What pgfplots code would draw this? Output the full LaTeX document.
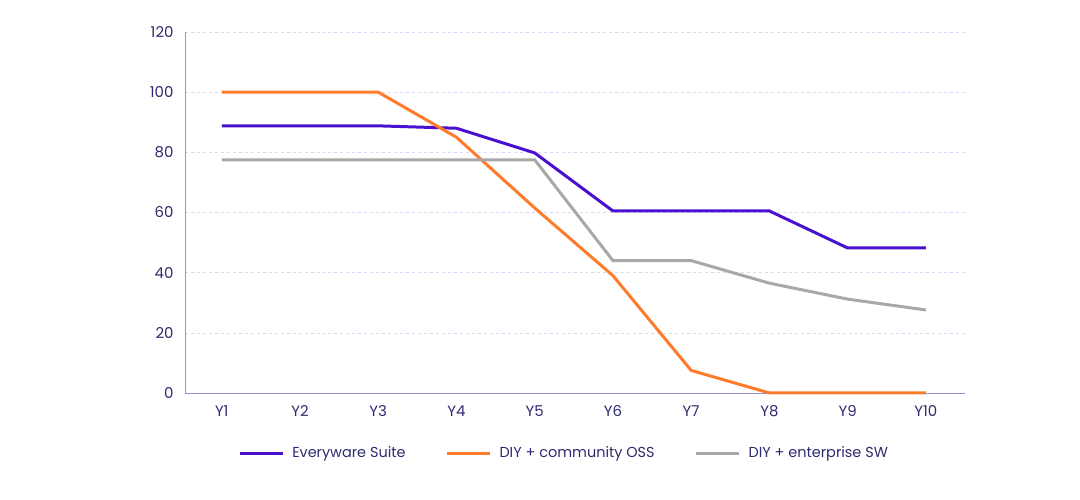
\documentclass[border=0pt]{standalone}
\usepackage{pgfplots}
\pgfplotsset{compat=1.18}
\usepackage{fontspec}
\setmainfont{Poppins}
\definecolor{cpurple}{HTML}{4A10CF}
\definecolor{corange}{HTML}{FF7B2C}
\definecolor{cgray}{HTML}{A8A8A8}
\definecolor{caxis}{HTML}{9A8ED6}
\definecolor{cgrid}{HTML}{DCD8F4}
\definecolor{ctext}{HTML}{2E2A6E}
\begin{document}
\begin{tikzpicture}[x=1bp,y=1bp]
\path[use as bounding box] (0,0) rectangle (1080,500);
\begin{axis}[
  at={(185bp,107bp)}, anchor=south west,
  scale only axis, width=780bp, height=361bp,
  xmin=0.53, xmax=10.5, ymin=0, ymax=120,
  axis x line=bottom, axis y line=left,
  axis line style={caxis, line width=0.9pt, -},
  xtick={1,...,10},
  xticklabels={Y1,Y2,Y3,Y4,Y5,Y6,Y7,Y8,Y9,Y10},
  ytick={0,20,...,120},
  major tick length=0pt,
  ymajorgrids, grid style={cgrid, dashed, line width=0.6pt},
  tick label style={font=\fontsize{15}{17}\selectfont, text=ctext},
  /pgf/number format/assume math mode=true,
  yticklabel style={xshift=-8bp},
  xticklabel style={yshift=-9bp},
  legend style={at={(0.486,-0.138)}, anchor=north, draw=none, fill=none,
    font=\fontsize{14.5}{16}\selectfont, text=ctext,
    legend columns=-1,
    /tikz/every odd column/.append style={column sep=6bp},
    /tikz/every even column/.append style={column sep=38bp}},
  legend image code/.code={\draw[#1, line width=3pt] (0bp,0bp) -- (43bp,0bp);},
  clip=false,
]
\addplot[cpurple, line width=3pt] coordinates {(1,88.8) (2,88.8) (3,88.8) (4,88.0) (5,79.8) (6,60.5) (7,60.5) (8,60.5) (9,48.2) (10,48.2)};
\addlegendentry{Everyware Suite}
\addplot[corange, line width=3pt] coordinates {(1,100) (2,100) (3,100) (4,85) (5,61.5) (6,39) (7,7.5) (8,0) (9,0) (10,0)};
\addlegendentry{DIY + community OSS}
\addplot[cgray, line width=3pt] coordinates {(1,77.5) (2,77.5) (3,77.5) (4,77.5) (5,77.5) (6,44) (7,44) (8,36.5) (9,31.2) (10,27.6)};
\addlegendentry{DIY + enterprise SW}
\end{axis}
\end{tikzpicture}
\end{document}
